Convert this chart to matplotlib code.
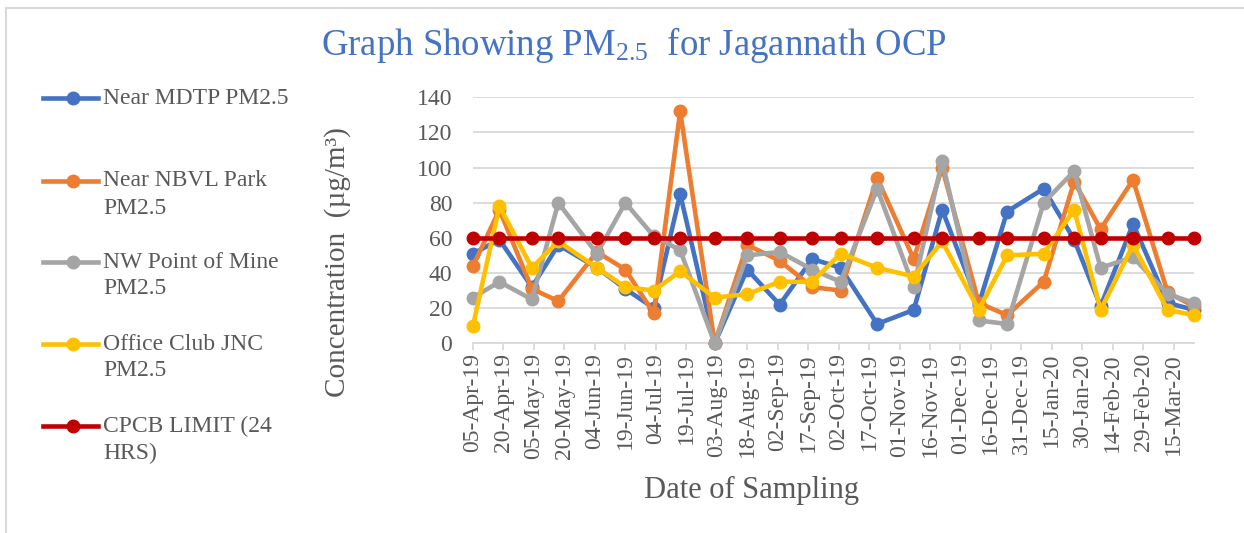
import numpy as np
import pandas as pd
import matplotlib
matplotlib.use("Agg")
import matplotlib.pyplot as plt
import matplotlib.dates as mdates
from matplotlib.lines import Line2D

plt.rcParams['font.family'] = ['Liberation Serif', 'DejaVu Serif']
plt.rcParams['mathtext.fontset'] = 'custom'
plt.rcParams['mathtext.rm'] = 'Liberation Serif'
plt.rcParams['mathtext.it'] = 'Liberation Serif:italic'

# sampling dates
dates = pd.to_datetime([
    '2019-04-05', '2019-04-18', '2019-05-04', '2019-05-17', '2019-06-05', '2019-06-19',
    '2019-07-03', '2019-07-16', '2019-08-02', '2019-08-18', '2019-09-03', '2019-09-19',
    '2019-10-03', '2019-10-21', '2019-11-08', '2019-11-22', '2019-12-10', '2019-12-24',
    '2020-01-11', '2020-01-26', '2020-02-08', '2020-02-24', '2020-03-12', '2020-03-25'])

mdtp = [51, 59, 32, 56, 43, 31, 20, 85, 0, 42, 22, 48, 43, 11, 19, 76, 22, 75, 88, 59, 21, 68, 23, 19]
nbvl = [44, 76, 31, 24, 52, 42, 17, 132, 0, 56, 47, 32, 30, 94, 48, 100, 23, 16, 35, 92, 65, 93, 29, 21]
nw_point = [26, 35, 25, 80, 51, 80, 61, 53, 0, 50, 52, 42, 35, 88, 32, 104, 13, 11, 80, 98, 43, 49, 28, 23]
office_club = [10, 78, 43, 58, 43, 32, 30, 41, 26, 28, 35, 35, 51, 43, 38, 58, 19, 50, 51, 76, 19, 56, 19, 16]
cpcb_limit = [60] * len(dates)

series = [
    ('Near MDTP PM2.5', mdtp, '#4472C4'),
    ('Near NBVL Park\nPM2.5', nbvl, '#ED7D31'),
    ('NW Point of Mine\nPM2.5', nw_point, '#A5A5A5'),
    ('Office Club JNC\nPM2.5', office_club, '#FFC000'),
    ('CPCB LIMIT (24\nHRS)', cpcb_limit, '#C00000'),
]

txt_col = '#595959'
grid_col = '#D9D9D9'
W, H = 1244, 533
LW, MS = 3.3, 9

fig = plt.figure(figsize=(W / 100, H / 100), dpi=100)
ax = fig.add_axes([473 / W, 1 - 343.3 / H, (1194 - 473) / W, (343.3 - 97.3) / H])

for i, (name, vals, col) in enumerate(series):
    ax.plot(dates, vals, color=col, lw=LW, marker='o', ms=MS, zorder=3 + i,
            solid_capstyle='round', solid_joinstyle='round', clip_on=False)

ax.set_ylim(0, 140)
ax.set_yticks(np.arange(0, 141, 20))
ax.set_xlim(dates[0], dates[-1])
ax.set_xticks(pd.date_range(dates[0], dates[-1], freq='15D'))
ax.xaxis.set_major_formatter(mdates.DateFormatter('%d-%b-%y'))

ax.grid(axis='y', color=grid_col, lw=1.3)
ax.set_axisbelow(True)
for s in ['top', 'right', 'left']:
    ax.spines[s].set_visible(False)
ax.spines['bottom'].set_color(grid_col)
ax.spines['bottom'].set_linewidth(1.3)
ax.tick_params(axis='x', colors=grid_col, length=5, width=1.3, direction='out',
               labelcolor=txt_col, labelsize=17, labelrotation=90, pad=2)
ax.tick_params(axis='y', length=0, labelcolor=txt_col, labelsize=17, pad=15)

fig.text(634 / W, 1 - 45 / H, 'Graph Showing PM$_{\\mathregular{2.5}}$  for Jagannath OCP',
         color='#4472C4', fontsize=26.5, ha='center', va='center')
fig.text(752 / W, 1 - 490 / H, 'Date of Sampling', color=txt_col, fontsize=22,
         ha='center', va='center')
fig.text(338 / W, 1 - 262 / H, 'Concentration  (µg/m³)', color=txt_col, fontsize=21,
         ha='center', va='center', rotation=90)

# legend on the left, handle lined up with first text line
leg_y = [98, 181, 262, 344, 426]
for (name, vals, col), y in zip(series, leg_y):
    yf = 1 - y / H
    fig.add_artist(Line2D([43 / W, 98 / W], [yf, yf], color=col, lw=LW))
    fig.add_artist(Line2D([73 / W], [yf], color=col, marker='o', ms=MS))
    for k, line in enumerate(name.split('\n')):
        fig.text(103 / W, 1 - (y + 27 * k) / H, line, color=txt_col, fontsize=17,
                 ha='left', va='center')

# chart frame
fig.add_artist(Line2D([6 / W, 6 / W], [0, 1 - 8 / H], color=grid_col, lw=1.5))
fig.add_artist(Line2D([6 / W, 1], [1 - 8 / H, 1 - 8 / H], color=grid_col, lw=1.5))

fig.savefig('out.png', dpi=100)
